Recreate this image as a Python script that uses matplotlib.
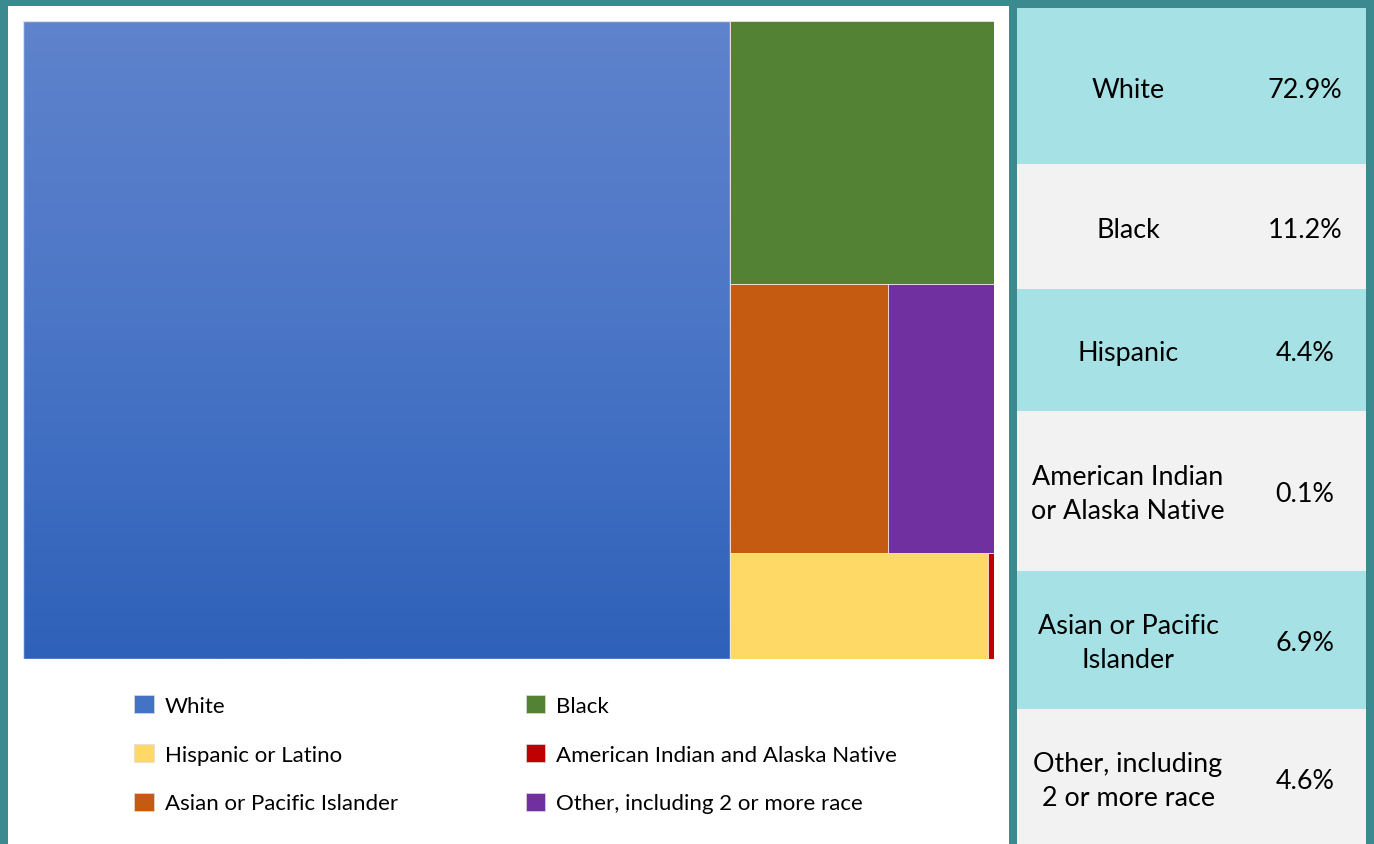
import numpy as np
import matplotlib
matplotlib.use("Agg")
import matplotlib.pyplot as plt
from matplotlib.patches import Rectangle

plt.rcParams["font.family"] = ["Lato", "DejaVu Sans"]

# shares shown in the table (percent)
groups = ["White", "Black", "Hispanic", "American Indian\nor Alaska Native",
          "Asian or Pacific\nIslander", "Other, including\n2 or more race"]
shares = [72.9, 11.2, 4.4, 0.1, 6.9, 4.6]
legend_labels = ["White", "Black", "Hispanic or Latino",
                 "American Indian and Alaska Native",
                 "Asian or Pacific Islander", "Other, including 2 or more race"]
colors = ["#4472C4", "#548235", "#FFD966", "#C00000", "#C55A11", "#7030A0"]

W, H = 1374, 845
TEAL = "#3A8A90"


def frac(x0, y0, x1, y1):
    # pixel box (top-left origin) -> figure fraction rect
    return [x0 / W, 1 - y1 / H, (x1 - x0) / W, (y1 - y0) / H]


fig = plt.figure(figsize=(W / 100, H / 100), dpi=100, facecolor=TEAL)

# white chart panel
panel = fig.add_axes(frac(8, 7, 1009, 845))
panel.set_facecolor("white")
panel.set_xticks([])
panel.set_yticks([])
for s in panel.spines.values():
    s.set_visible(False)

# treemap
ax = fig.add_axes(frac(23, 22, 994, 660))
ax.set_xlim(0, 1)
ax.set_ylim(0, 1)
ax.axis("off")

val = dict(zip(legend_labels, shares))
total = sum(shares)
w_white = val["White"] / total
rest = total - val["White"]

rects = {}
rects["White"] = (0, 0, w_white, 1)
# right column: Black on top, Asian+Other in middle, Hispanic+AI at bottom
h_black = val["Black"] / rest
mid = val["Asian or Pacific Islander"] + val["Other, including 2 or more race"]
h_mid = mid / rest
bot = val["Hispanic or Latino"] + val["American Indian and Alaska Native"]
h_bot = bot / rest
cw = 1 - w_white
rects["Black"] = (w_white, 1 - h_black, cw, h_black)
wa = cw * val["Asian or Pacific Islander"] / mid
rects["Asian or Pacific Islander"] = (w_white, h_bot, wa, h_mid)
rects["Other, including 2 or more race"] = (w_white + wa, h_bot, cw - wa, h_mid)
wh = cw * val["Hispanic or Latino"] / bot
rects["Hispanic or Latino"] = (w_white, 0, wh, h_bot)
rects["American Indian and Alaska Native"] = (w_white + wh, 0, cw - wh, h_bot)

for lab, col in zip(legend_labels, colors):
    x, y, w, h = rects[lab]
    if lab == "White":
        grad = np.linspace(0, 1, 256).reshape(-1, 1)
        cmap = matplotlib.colors.LinearSegmentedColormap.from_list(
            "wgrad", ["#2E61B9", "#4A75C6", "#5F83CC"])
        ax.imshow(grad, extent=(x, x + w, y, y + h), origin="lower",
                  cmap=cmap, aspect="auto", zorder=1)
        ax.add_patch(Rectangle((x, y), w, h, facecolor="none",
                               edgecolor="#D9E0F0", lw=1, zorder=2))
    else:
        ax.add_patch(Rectangle((x, y), w, h, facecolor=col,
                               edgecolor="#F2E6E0", lw=0.6, zorder=2))
ax.set_xlim(0, 1)
ax.set_ylim(0, 1)

# legend
handles = [Rectangle((0, 0), 1, 1, facecolor=c, edgecolor="#DDDDDD", lw=0.5)
           for c in colors]
order = [0, 2, 4, 1, 3, 5]
leg = fig.legend([handles[i] for i in order], [legend_labels[i] for i in order],
                 ncol=2, loc="upper left",
                 bbox_to_anchor=(134 / W, 1 - 696 / H),
                 frameon=False, fontsize=16, handlelength=0.88,
                 handleheight=0.88, handletextpad=0.5, labelspacing=1.26,
                 columnspacing=5.75, borderaxespad=0, borderpad=0)

# table on the right
tab = fig.add_axes(frac(1017, 9, 1366, 845))
tab.set_xlim(0, 349)
tab.set_ylim(836, 0)
tab.axis("off")
row_edges = [0, 156, 281, 403, 563, 701, 836]
fills = ["#A6E2E5", "#F2F2F2"]
for i, (g, s) in enumerate(zip(groups, shares)):
    y0, y1 = row_edges[i], row_edges[i + 1]
    tab.add_patch(Rectangle((0, y0), 349, y1 - y0, facecolor=fills[i % 2],
                            edgecolor="none"))
    yc = (y0 + y1) / 2 + 3 if i < 5 else 773
    tab.text(111, yc, g, ha="center", va="center", fontsize=19.4,
             linespacing=1.45)
    tab.text(288, yc, f"{s}%", ha="center", va="center", fontsize=19.4)

fig.savefig("out.png", dpi=100, facecolor=TEAL)
